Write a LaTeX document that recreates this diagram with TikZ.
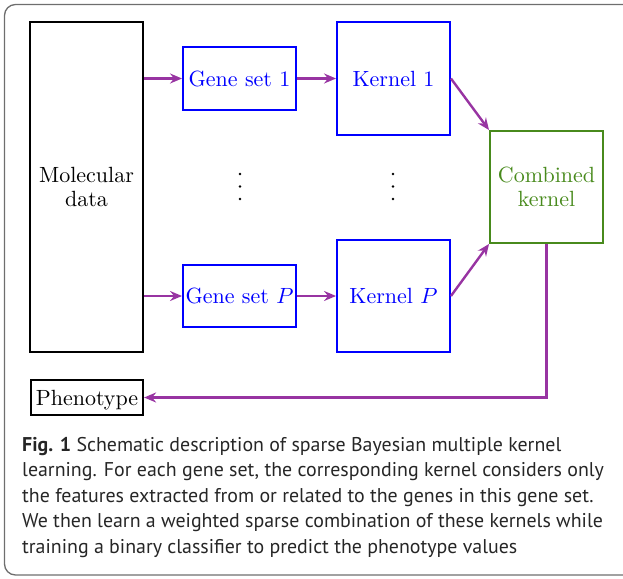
\documentclass[tikz,border=0pt]{standalone}
\usepackage{fontspec}
\newfontfamily\capfont{PT Sans}
\usetikzlibrary{arrows.meta}
\definecolor{flowpurple}{RGB}{152,52,162}
\definecolor{kgreen}{RGB}{72,138,28}
\definecolor{frame}{RGB}{110,110,110}
\tikzset{
  box/.style={draw, line width=1.9pt, inner sep=0pt, align=center, font=\fontsize{10}{12}\selectfont},
  bluebox/.style={box, draw=blue, text=blue},
  blackbox/.style={box, draw=black, line width=2.2pt},
  greenbox/.style={box, draw=kgreen, text=kgreen},
  flow/.style={draw=flowpurple, line width=2.4pt, -{Stealth[length=12pt,width=10pt,inset=4pt]}},
  capline/.style={anchor=base west, inner sep=0pt, font=\capfont\fontsize{19.9}{24}\selectfont, text=black!85}
}
% enlarged box text, nudged slightly down inside its box
\newcommand{\bigtxt}[1]{\raisebox{-2.5pt}[\height][\depth]{\scalebox{2.2}{\begin{tabular}{@{}c@{}}#1\end{tabular}}}}
\begin{document}
\begin{tikzpicture}[x=1pt,y=-1pt]
  \useasboundingbox (0,0) rectangle (623,578);
  \begin{scope}
    \clip (0,0) rectangle (623,578);
    \draw[frame, line width=1.3pt, rounded corners=11pt] (4.5,4.5) rectangle (640,575);
  \end{scope}

  % boxes
  \node[blackbox, minimum width=113pt, minimum height=330pt] (mol) at (86.5,187) {\bigtxt{Molecular\\[-1pt] data}};
  \node[bluebox, minimum width=113pt, minimum height=63pt] (g1) at (239.5,78.5) {\bigtxt{Gene set 1}};
  \node[bluebox, minimum width=113pt, minimum height=113pt] (k1) at (393.5,78.5) {\bigtxt{Kernel 1}};
  \node[bluebox, minimum width=113pt, minimum height=62pt] (gp) at (239.5,296) {\bigtxt{Gene set $P$}};
  \node[bluebox, minimum width=113pt, minimum height=112pt] (kp) at (393.5,296) {\bigtxt{Kernel $P$}};
  \node[greenbox, minimum width=113pt, minimum height=112pt] (comb) at (546.5,187) {\bigtxt{Combined\\[-1pt] kernel}};
  \node[blackbox, minimum width=112pt, minimum height=35pt] (ph) at (87,397.5) {\bigtxt{Phenotype}};

  % vertical ellipses between the first and last rows
  \foreach \x in {240,393} {
    \foreach \y in {174,186.5,199} {
      \fill[black] (\x,\y) circle (1.3pt);
    }
  }

  % connectors
  \draw[flow] (g1.west -| mol.east) -- (g1.west);
  \draw[flow] (g1.east) -- (k1.west);
  \draw[flow] (gp.west -| mol.east) -- (gp.west);
  \draw[flow] (gp.east) -- (kp.west);
  \draw[flow] (k1.east) -- (comb.north west);
  \draw[flow] (kp.east) -- (comb.south west);
  \draw[flow] (comb.south) |- (ph.east);

  % caption
  \node[capline] (c1) at (22,451) {\textbf{Fig. 1} Schematic description of sparse Bayesian multiple kernel};
  \node[capline] (c2) at (22,476.5) {learning. For each gene set, the corresponding kernel considers only};
  \node[capline] (c3) at (22,502) {the features extracted from or related to the genes in this gene set.};
  \node[capline] (c4) at (22,527.5) {We then learn a weighted sparse combination of these kernels while};
  \node[capline] (c5) at (22,553) {training a binary classifier to predict the phenotype values};
\end{tikzpicture}
\end{document}
